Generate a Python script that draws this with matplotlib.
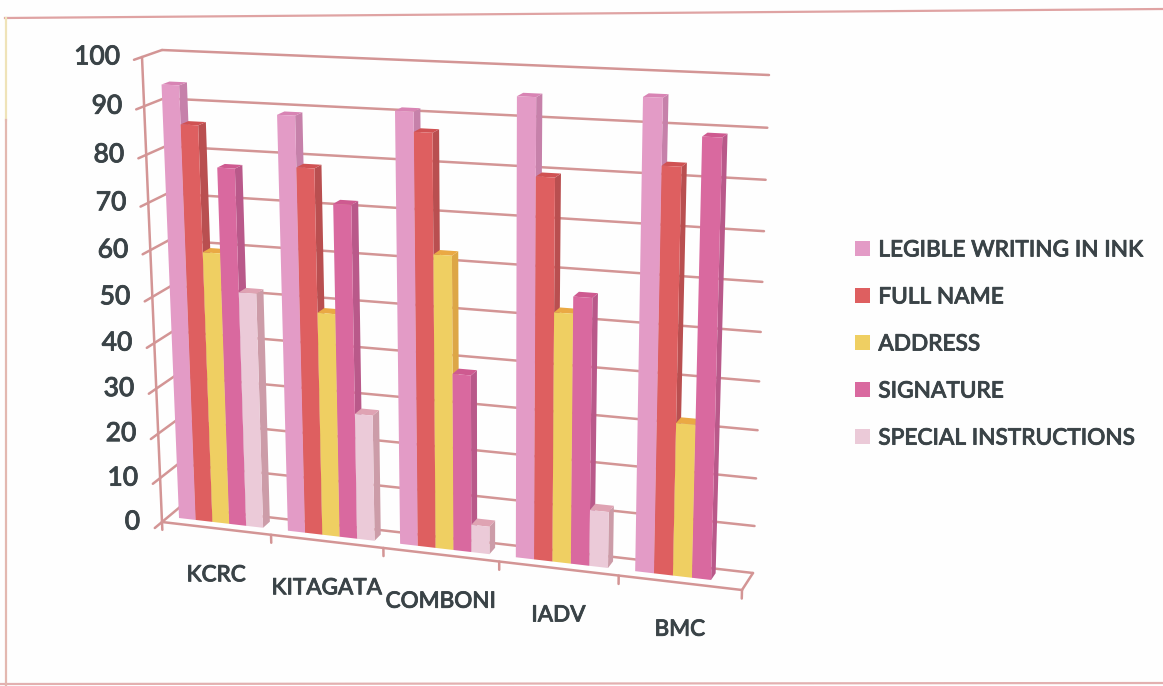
import matplotlib
matplotlib.use('Agg')
import numpy as np
import matplotlib.pyplot as plt
import matplotlib.patheffects as pe
from matplotlib.patches import Polygon, Patch

plt.rcParams['font.family'] = ['Lato', 'DejaVu Sans']

categories = ['KCRC', 'KITAGATA', 'COMBONI', 'IADV', 'BMC']
series = ['LEGIBLE WRITING IN INK', 'FULL NAME', 'ADDRESS', 'SIGNATURE', 'SPECIAL INSTRUCTIONS']

legible = [94, 89, 91, 95, 96]
full_name = [86, 78.5, 87, 79.5, 83]
address = [59.5, 48.5, 62.5, 52.5, 32]
signature = [77.5, 71.5, 38, 56, 89]
special = [51.5, 27.5, 6, 12, 0]
values = [legible, full_name, address, signature, special]

y_ticks = list(range(0, 101, 10))

front_cols = ['#E39BC6', '#DE5F60', '#EFCF62', '#D9699F', '#EBCAD8']
side_cols = ['#C681AA', '#B94F50', '#DDA646', '#B9598A', '#CC9CA8']
top_cols = ['#D884B4', '#D05253', '#EAA944', '#CE5A90', '#DFA3B3']

GRID = '#D39595'
TEXT = '#3A4347'
# the scan makes the type heavier than the plain font
HEAVY = [pe.withStroke(linewidth=0.6, foreground=TEXT)]

# box corners in pixels, (left/right, front/back, bottom/top)
LFB = np.array([162., 522.])
LFT = np.array([142., 57.])
LBB = np.array([180., 507.])
LBT = np.array([162., 50.])
RFB = np.array([742., 590.])
RFT = np.array([756., 84.])
RBB = np.array([753., 573.])
RBT = np.array([769., 75.])

# 3d box depth position of the bars, and where they sit in a category slot
D0, D1 = 0.35, 0.75
SLOT0, BAR_W = 0.10, 0.155


def warp(t, r):
    return t / (t + r * (1 - t))


def project(u, d, val):
    """u 0-1 along the categories, d 0 front - 1 back, val in percent"""
    a = warp(u, 1.08)
    h = warp(val / 100.0, 1.066)
    front = (1 - a) * ((1 - h) * LFB + h * LFT) + a * ((1 - h) * RFB + h * RFT)
    back = (1 - a) * ((1 - h) * LBB + h * LBT) + a * ((1 - h) * RBB + h * RBT)
    return (1 - d) * front + d * back


fig = plt.figure(figsize=(11.63, 6.86), dpi=100)
ax = fig.add_axes([0, 0, 1, 1])
ax.set_xlim(0, 1163)
ax.set_ylim(686, 0)
ax.axis('off')


def line(p, q, lw=1.8, color=GRID, z=1):
    ax.plot([p[0], q[0]], [p[1], q[1]], color=color, lw=lw, solid_capstyle='round', zorder=z)


# scan page frame
ax.plot([5, 1163], [18, 9], color='#DFA3A3', lw=1.6)
ax.plot([0, 1163], [684, 683], color='#E3B0B0', lw=1.6)
ax.plot([6, 6], [18, 120], color='#EFE3B8', lw=1.6)
ax.plot([6, 6], [120, 686], color='#E3B8B0', lw=1.6)

# walls
for t in y_ticks:
    line(project(0, 1, t), project(1, 1, t))
    line(project(0, -0.4, t), project(0, 1, t))
    ax.text(project(0, 0, t)[0] - 22, project(0, 0, t)[1], str(t), ha='right', va='center',
            fontsize=19, color=TEXT, fontweight='medium', path_effects=HEAVY)
line(project(0, 0, 0), project(0, 0, 100))

# floor
line(project(0, 0, 0), project(1, 0, 0))
line(project(1, 0, 0), project(1, 1, 0))
for i in range(len(categories) + 1):
    line(project(i / 5.0, 0, 0), project(i / 5.0, 0, -1.8))

# bars, left to right so each one covers the side of the one before
for c in range(len(categories)):
    for s in range(len(series)):
        v = values[s][c]
        if v <= 0:
            continue
        u0 = (c + SLOT0 + s * BAR_W) / 5.0
        u1 = (c + SLOT0 + (s + 1) * BAR_W) / 5.0
        side = [project(u1, D0, 0), project(u1, D1, 0), project(u1, D1, v), project(u1, D0, v)]
        top = [project(u0, D0, v), project(u1, D0, v), project(u1, D1, v), project(u0, D1, v)]
        face = [project(u0, D0, 0), project(u1, D0, 0), project(u1, D0, v), project(u0, D0, v)]
        ax.add_patch(Polygon(side, closed=True, fc=side_cols[s], ec='none', zorder=3))
        ax.add_patch(Polygon(top, closed=True, fc=top_cols[s], ec='none', zorder=3))
        ax.add_patch(Polygon(face, closed=True, fc=front_cols[s], ec='none', zorder=3))

# category labels
for i, name in enumerate(categories):
    p = project((i + 0.5) / 5.0, 0, 0)
    ax.text(p[0], p[1] + 47, name, ha='center', va='center', fontsize=16.2, color=TEXT,
            fontweight='medium', path_effects=HEAVY)

handles = [Patch(fc=col, ec='none') for col in front_cols]
leg = ax.legend(handles, series, loc='center left', bbox_to_anchor=(0.735, 0.4985), frameon=False,
                fontsize=16.3, labelcolor=TEXT, handlelength=0.68, handleheight=0.68,
                handletextpad=0.36, labelspacing=1.15, borderpad=0, borderaxespad=0)
for txt in leg.get_texts():
    txt.set_fontweight('medium')
    txt.set_path_effects(HEAVY)

fig.savefig('out.png', dpi=100, facecolor='#FEFEFE')
